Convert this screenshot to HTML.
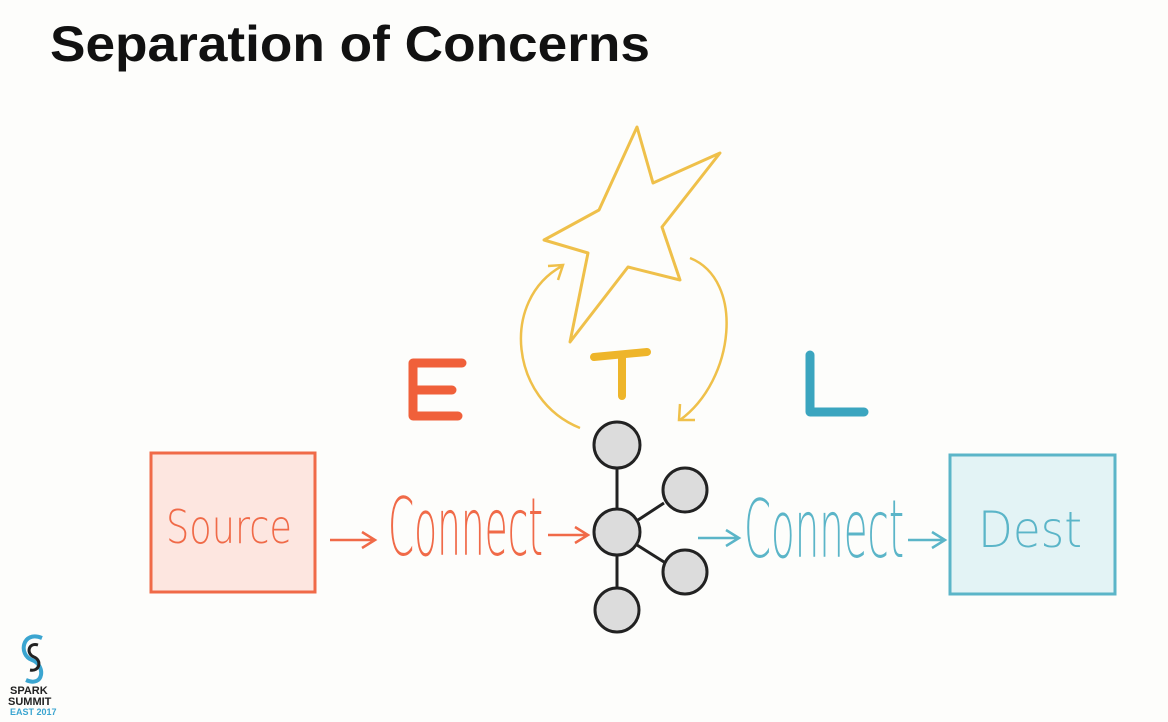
<!DOCTYPE html>
<html><head><meta charset="utf-8"><style>
html,body{margin:0;padding:0;background:#fdfdfb;}
svg{display:block;}
.h{font-family:"DejaVu Sans ExtraLight","DejaVu Sans","Liberation Sans",sans-serif;font-weight:200;}
</style></head><body>
<svg width="1168" height="722" viewBox="0 0 1168 722" xmlns="http://www.w3.org/2000/svg">
<rect width="1168" height="722" fill="#fdfdfb"/>
<text x="50" y="61" font-family="Liberation Sans, sans-serif" font-weight="bold" font-size="50" fill="#111" textLength="600" lengthAdjust="spacingAndGlyphs">Separation of Concerns</text>

<polygon points="637,127 653,183 720,153 662,227 680,280 628,267 570,342 588,253 544,240 599,210" fill="none" stroke="#efc04a" stroke-width="3" stroke-linejoin="round"/>
<path d="M580,428 C510,400 500,300 562,266" fill="none" stroke="#efc04a" stroke-width="2.5"/>
<path d="M548,266 L563,265 L558,280" fill="none" stroke="#efc04a" stroke-width="2.5"/>
<path d="M690,258 C745,280 735,380 680,420" fill="none" stroke="#efc04a" stroke-width="2.5"/>
<path d="M680,404 L679,420 L695,420" fill="none" stroke="#efc04a" stroke-width="2.5"/>

<path d="M462,363 L413,363 L413,416 L458,416 M413,390 L452,390" fill="none" stroke="#f0603a" stroke-width="9" stroke-linecap="round" stroke-linejoin="round"/>
<path d="M594,357 L647,352 M622,356 L622,396" fill="none" stroke="#eeb52a" stroke-width="8" stroke-linecap="round"/>
<path d="M810,355 L810,412 L864,412" fill="none" stroke="#3ba5bf" stroke-width="9" stroke-linecap="round" stroke-linejoin="round"/>

<rect x="151" y="453" width="164" height="139" fill="#fde6e0" stroke="#f06a48" stroke-width="3"/>
<text class="h" x="166" y="543" font-size="46" fill="#f06a48" textLength="126" lengthAdjust="spacingAndGlyphs">Source</text>
<path d="M330,540 L374,540 M362,532 L375,540 L362,548" fill="none" stroke="#f06a48" stroke-width="2.5"/>
<text class="h" x="388" y="555" font-size="80" fill="#f06a48" textLength="155" lengthAdjust="spacingAndGlyphs">Connect</text>
<path d="M548,535 L587,535 M575,527 L588,535 L575,543" fill="none" stroke="#f06a48" stroke-width="2.5"/>

<g stroke="#222" stroke-width="3">
<line x1="617" y1="468" x2="617" y2="509"/>
<line x1="617" y1="555" x2="617" y2="587"/>
<line x1="638" y1="520" x2="664" y2="503"/>
<line x1="637" y1="545" x2="664" y2="562"/>
<g fill="#dcdcdc">
<circle cx="617" cy="445" r="23"/>
<circle cx="685" cy="490" r="22"/>
<circle cx="617" cy="532" r="23"/>
<circle cx="685" cy="572" r="22"/>
<circle cx="617" cy="610" r="22"/>
</g></g>

<path d="M698,538 L738,538 M726,530 L739,538 L726,546" fill="none" stroke="#5bb5c8" stroke-width="2.5"/>
<text class="h" x="744" y="557" font-size="80" fill="#5bb5c8" textLength="160" lengthAdjust="spacingAndGlyphs">Connect</text>
<path d="M908,540 L944,540 M932,532 L945,540 L932,548" fill="none" stroke="#5bb5c8" stroke-width="2.5"/>
<rect x="950" y="455" width="165" height="139" fill="#e3f3f5" stroke="#5bb5c8" stroke-width="3"/>
<text class="h" x="978" y="547" font-size="50" fill="#5bb5c8" textLength="104" lengthAdjust="spacingAndGlyphs">Dest</text>

<path d="M42,638 C22,630 18,655 32,660 C46,665 44,688 26,680" fill="none" stroke="#3ba5d0" stroke-width="4"/>
<path d="M38,645 C28,642 26,654 34,657 C42,660 40,672 30,670" fill="none" stroke="#222" stroke-width="3"/>
<text x="10" y="694" font-family="Liberation Sans, sans-serif" font-weight="bold" font-size="11" fill="#222">SPARK</text>
<text x="8" y="705" font-family="Liberation Sans, sans-serif" font-weight="bold" font-size="11" fill="#222">SUMMIT</text>
<text x="10" y="715" font-family="Liberation Sans, sans-serif" font-weight="bold" font-size="9" fill="#3ba5d0">EAST 2017</text>
</svg>
</body></html>
